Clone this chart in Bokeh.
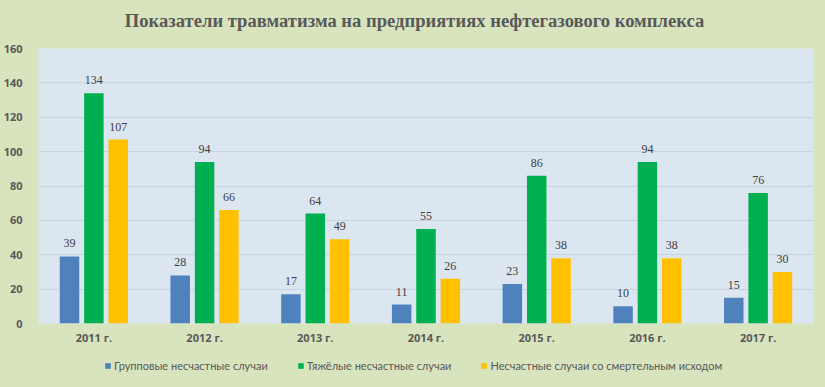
from bokeh.plotting import figure
from bokeh.models import ColumnDataSource, FactorRange, LabelSet, Legend, LegendItem, Label, Range1d
from bokeh.layouts import column
from bokeh.transform import dodge
from bokeh.embed import file_html
from bokeh.resources import INLINE

years = ["2011 г.", "2012 г.", "2013 г.", "2014 г.", "2015 г.", "2016 г.", "2017 г."]
group = [39, 28, 17, 11, 23, 10, 15]
severe = [134, 94, 64, 55, 86, 94, 76]
fatal = [107, 66, 49, 26, 38, 38, 30]
series_names = ["Групповые несчастные случаи", "Тяжёлые несчастные случаи",
                "Несчастные случаи со смертельным исходом"]
colors = ["#4f81bd", "#00b050", "#ffc000"]
y_ticks = [0, 20, 40, 60, 80, 100, 120, 140, 160]
title_text = "Показатели травматизма на предприятиях нефтегазового комплекса"

BG = "#d7e4bd"
PLOT_BG = "#dce6f1"
TXT = "#595959"

src = ColumnDataSource(dict(
    years=years, group=group, severe=severe, fatal=fatal,
    group_s=[str(v) for v in group], severe_s=[str(v) for v in severe],
    fatal_s=[str(v) for v in fatal],
))
xr = FactorRange(*years, range_padding=0)

# header with title
hdr = figure(width=809, height=34, x_range=(0, 1), y_range=(0, 1),
             x_axis_location=None, y_axis_location=None,
             output_backend="svg", toolbar_location=None, min_border=0,
             background_fill_color=BG, border_fill_color=BG)
hdr.outline_line_color = None
hdr.grid.visible = False
hdr.add_layout(Label(x=376, y=14, x_units="screen", y_units="screen", text=title_text,
                     text_align="center", text_baseline="middle",
                     text_font="Liberation Serif", text_font_size="18.6px",
                     text_font_style="bold", text_color=TXT))

# main chart
p = figure(x_range=xr, y_range=(0, 160),
           frame_width=775, frame_height=275, output_backend="svg", toolbar_location=None,
           background_fill_color=PLOT_BG, border_fill_color=BG,
           min_border_left=28, min_border_right=6, min_border_top=14, min_border_bottom=30)
p.outline_line_color = None

offsets = [-0.22, 0.0, 0.22]
fields = ["group", "severe", "fatal"]
for f, off, c in zip(fields, offsets, colors):
    p.vbar(x=dodge("years", off, range=xr), top=f, width=0.176, source=src,
           fill_color=c, line_color=None)
    lbl = LabelSet(x=dodge("years", off, range=xr), y=f, text=f + "_s", source=src,
                   y_offset=9, text_align="center", text_baseline="bottom",
                   text_font="Open Sans", text_font_size="12px", text_color="#404040")
    p.add_layout(lbl)

p.xgrid.grid_line_color = None
p.ygrid.grid_line_color = "#c9d3df"
p.ygrid.grid_line_width = 1
p.yaxis.ticker = y_ticks
for ax in (p.xaxis[0], p.yaxis[0]):
    ax.axis_line_color = None
    ax.major_tick_line_color = None
    ax.minor_tick_line_color = None
    ax.major_label_text_color = TXT
    ax.major_label_text_font = "Open Sans"
    ax.major_label_text_font_size = "11px"
    ax.major_label_text_font_style = "bold"
p.xaxis.major_label_standoff = 0
p.yaxis.major_label_standoff = 10

# legend strip (series drawn from the same data, kept outside the visible y range)
leg = figure(width=809, height=26, x_range=xr, y_range=Range1d(1000, 1001),
             x_axis_location=None, y_axis_location=None,
             output_backend="svg", toolbar_location=None, min_border=0,
             background_fill_color=BG, border_fill_color=BG)
leg.outline_line_color = None
leg.grid.visible = False
leg_renderers = []
for f, off, c in zip(fields, offsets, colors):
    leg_renderers.append(leg.vbar(x=dodge("years", off, range=xr), top=f, width=0.176,
                                  source=src, fill_color=c, line_color=None))
legend = Legend(items=[LegendItem(label=n, renderers=[r]) for n, r in zip(series_names, leg_renderers)],
                orientation="horizontal", location=(66, 7),
                background_fill_alpha=0, border_line_color=None,
                label_text_font="Lato", label_text_font_size="11px",
                label_text_color=TXT, glyph_width=7, glyph_height=7, label_height=12,
                spacing=29, label_standoff=3, padding=0, margin=0)
leg.add_layout(legend, "center")

layout = column(hdr, p, leg, spacing=0)

html = file_html(layout, INLINE)
html = html.replace("<head>", "<head><style>html,body{background:%s;}</style>" % BG, 1)
html = html.replace("<body>", '<body style="margin:8px;background:%s">' % BG, 1)
open("out.html", "w").write(html)
